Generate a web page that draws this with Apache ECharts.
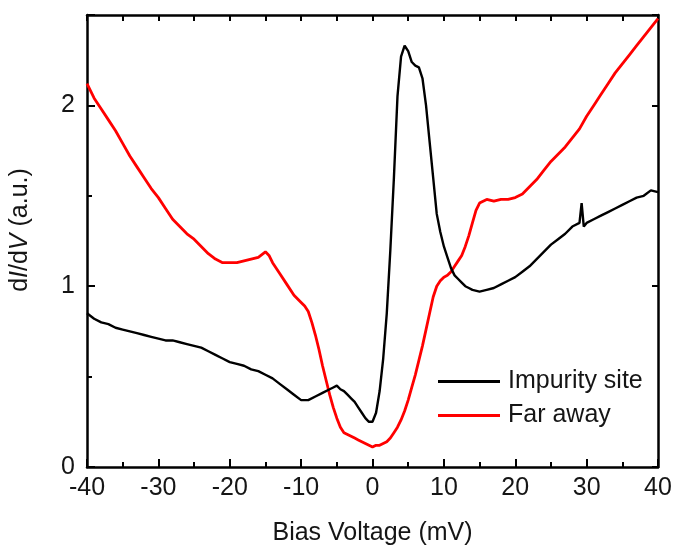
<!DOCTYPE html>
<html><head><meta charset="utf-8">
<script src="https://cdn.jsdelivr.net/npm/echarts@6/dist/echarts.min.js"></script>
<style>html,body{margin:0;padding:0;background:#fff}#c{width:675px;height:551px}</style>
</head><body><div id="c"></div>
<script>
const impurityX = [-40,-39,-38,-37,-36,-35,-34,-33,-32,-31,-30,-29,-28,-27,-26,-25,-24,-23,-22,-21,-20,-19,-18,-17,-16,-15,-14,-13,-12,-11,-10,-9,-8,-7,-6,-5.5,-5,-4.5,-4,-3.5,-3,-2.5,-2,-1.5,-1,-0.5,0,0.5,1,1.5,2,2.5,3,3.5,4,4.5,5,5.5,6,6.5,7,7.5,8,8.5,9,9.5,10,10.5,11,11.5,12,12.5,13,13.5,14,15,16,17,18,19,20,21,22,23,24,25,26,27,28,29,29.3,29.6,30,31,32,33,34,35,36,37,38,39,40];
const impurityY = [0.85,0.82,0.80,0.79,0.77,0.76,0.75,0.74,0.73,0.72,0.71,0.70,0.70,0.69,0.68,0.67,0.66,0.64,0.62,0.60,0.58,0.57,0.56,0.54,0.53,0.51,0.49,0.46,0.43,0.40,0.37,0.37,0.39,0.41,0.43,0.44,0.45,0.43,0.42,0.40,0.38,0.36,0.33,0.30,0.27,0.25,0.25,0.30,0.42,0.60,0.85,1.20,1.60,2.05,2.27,2.33,2.30,2.24,2.22,2.21,2.15,2.00,1.80,1.60,1.40,1.30,1.22,1.16,1.10,1.06,1.04,1.02,1.00,0.99,0.98,0.97,0.98,0.99,1.01,1.03,1.05,1.08,1.11,1.15,1.19,1.23,1.26,1.29,1.33,1.35,1.46,1.33,1.35,1.37,1.39,1.41,1.43,1.45,1.47,1.49,1.50,1.53,1.52];
const farX = [-40,-39.5,-39,-38,-37,-36,-35,-34,-33,-32,-31,-30,-29,-28,-27,-26,-25,-24,-23,-22,-21,-20,-19,-18,-17,-16,-15,-14.5,-14,-13,-12,-11,-10,-9.5,-9,-8.5,-8,-7.5,-7,-6.5,-6,-5.5,-5,-4.5,-4,-3.5,-3,-2.5,-2,-1.5,-1,-0.5,0,0.5,1,1.5,2,2.5,3,3.5,4,4.5,5,5.5,6,6.5,7,7.5,8,8.5,9,9.5,10,10.5,11,11.5,12,12.5,13,13.5,14,14.5,15,16,17,18,19,20,21,22,23,24,25,26,27,28,29,30,31,32,33,34,35,36,37,38,39,40];
const farY = [2.12,2.08,2.04,1.98,1.92,1.86,1.79,1.72,1.66,1.60,1.54,1.49,1.43,1.37,1.33,1.29,1.26,1.22,1.18,1.15,1.13,1.13,1.13,1.14,1.15,1.16,1.19,1.17,1.13,1.07,1.01,0.95,0.91,0.89,0.86,0.80,0.73,0.65,0.56,0.48,0.40,0.33,0.27,0.22,0.19,0.18,0.17,0.16,0.15,0.14,0.13,0.12,0.11,0.12,0.12,0.13,0.14,0.16,0.19,0.22,0.26,0.31,0.37,0.44,0.51,0.59,0.67,0.76,0.85,0.94,1.00,1.03,1.05,1.06,1.08,1.11,1.14,1.17,1.22,1.28,1.35,1.42,1.46,1.48,1.47,1.48,1.48,1.49,1.51,1.55,1.59,1.64,1.69,1.73,1.77,1.82,1.87,1.94,2.00,2.06,2.12,2.18,2.23,2.28,2.33,2.38,2.43,2.48];
const seriesNames = ['Impurity site','Far away'];
const xTicks = [-40,-30,-20,-10,0,10,20,30,40];
const yTicks = [0,1,2];

const font = 'Liberation Sans, Arial, sans-serif';
const txt = '#151515';
const fs = 25;
const chart = echarts.init(document.getElementById('c'), null, {renderer:'canvas'});
const zip = (xs, ys) => xs.map((x,i)=>[x, ys[i]]);
const axLine = {show:true, onZero:false, lineStyle:{color:'#000', width:2.5}};
chart.setOption({
  animation:false,
  backgroundColor:'#fff',
  grid:{left:86, right:17, top:15, bottom:83, containLabel:false},
  legend:{
    data:seriesNames, orient:'vertical', left:433, top:364, icon:'rect', itemWidth:62, itemHeight:3, itemGap:9,
    textStyle:{fontFamily:font, fontSize:fs, color:txt, padding:[0,0,0,3]}
  },
  xAxis:[{
    type:'value', min:-40, max:40, interval:10, position:'bottom',
    axisLine:axLine,
    axisTick:{show:true, inside:true, length:8, lineStyle:{color:'#000', width:2}},
    minorTick:{show:true, splitNumber:2, length:5, lineStyle:{color:'#000', width:2}},
    splitLine:{show:false},
    axisLabel:{fontFamily:font, fontSize:fs, color:txt, margin:9},
    name:'Bias Voltage (mV)', nameLocation:'middle', nameGap:54,
    nameTextStyle:{fontFamily:font, fontSize:fs, color:txt}
  },{
    type:'value', min:-40, max:40, interval:5, position:'top',
    axisLine:axLine,
    axisTick:{show:true, inside:true, length:6, lineStyle:{color:'#000', width:2}},
    axisLabel:{show:false}, splitLine:{show:false}
  }],
  yAxis:[{
    type:'value', min:0, max:2.5, interval:1, position:'left',
    axisLine:axLine,
    axisTick:{show:true, inside:true, length:8, lineStyle:{color:'#000', width:2}},
    minorTick:{show:true, splitNumber:2, length:5, lineStyle:{color:'#000', width:2}},
    splitLine:{show:false},
    axisLabel:{fontFamily:font, fontSize:fs, color:txt, margin:12, showMaxLabel:false},
    name:'{n|d}{i|I}{n|/d}{i|V}{n| (a.u.)}', nameLocation:'middle', nameGap:54, nameRotate:90,
    nameTextStyle:{fontFamily:font, fontSize:fs, color:txt, padding:[0,0,0,22],
      rich:{n:{fontFamily:font, fontSize:fs, color:txt}, i:{fontFamily:font, fontSize:fs, color:txt, fontStyle:'italic'}}}
  },{
    type:'value', min:0, max:2.5, interval:1, position:'right',
    axisLine:axLine,
    axisTick:{show:true, inside:true, length:6, lineStyle:{color:'#000', width:2}},
    axisLabel:{show:false}, splitLine:{show:false}
  }],
  series:[{
    name:seriesNames[0], type:'line', xAxisIndex:0, yAxisIndex:0, data:zip(impurityX, impurityY), showSymbol:false, symbol:'none',
    lineStyle:{color:'#000', width:2.4}, itemStyle:{color:'#000'}, z:3
  },{
    name:seriesNames[1], type:'line', xAxisIndex:0, yAxisIndex:0, data:zip(farX, farY), showSymbol:false, symbol:'none',
    lineStyle:{color:'#ff0000', width:2.8}, itemStyle:{color:'#ff0000'}, z:2
  }]
});
</script></body></html>
